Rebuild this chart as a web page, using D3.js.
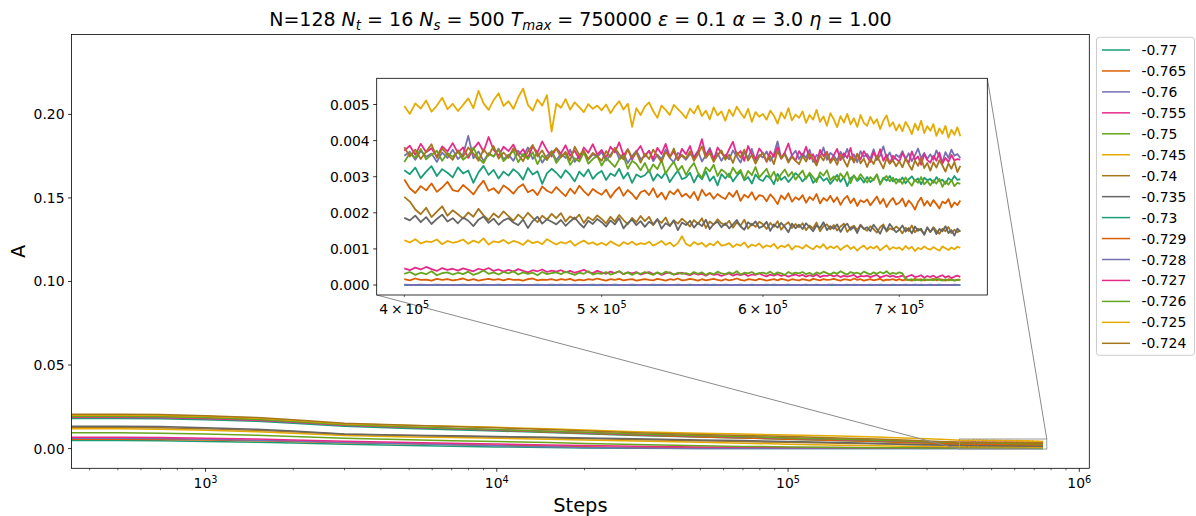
<!DOCTYPE html>
<html>
<head>
<meta charset="utf-8">
<script src="https://cdn.jsdelivr.net/npm/d3@7"></script>
<style>
  body { margin: 0; background: #ffffff; }
  svg text { font-family: "DejaVu Sans", sans-serif; fill: #000; }
</style>
</head>
<body>
<svg id="chart" width="1196" height="516"></svg>
<script>
// ---------------------------------------------------------------------------
// Data: order parameter A versus simulation step, one series per coupling.
// Values are stored in units of 1e-5.
// ---------------------------------------------------------------------------
const UNIT = 1e-5;

// log-spaced early samples, then a uniform grid up to T_max
const earlySteps = [300, 500, 700, 1000, 1500, 2000, 3000, 5000, 7000, 10000, 15000, 20000,
  30000, 50000, 70000, 100000, 150000, 200000, 250000, 300000, 350000, 375000];
const lateSteps = d3.range(400000, 750001, 2500);
const steps = earlySteps.concat(lateSteps);
const zoomStart = 400000;

const labels = ["-0.77", "-0.765", "-0.76", "-0.755", "-0.75", "-0.745", "-0.74", "-0.735",
  "-0.73", "-0.729", "-0.728", "-0.727", "-0.726", "-0.725", "-0.724"];

const A_0770 = [480,480,465,430,380,330,260,190,140,100,60,35,15,5,2,1,0,0,0,0,0,0,
  0,0,0,0,0,0,0,0,0,0, 0,0,0,0,0,0,0,0,0,0, 0,0,0,0,0,0,0,0,0,0, 0,0,0,0,0,0,0,0,0,0,
  0,0,0,0,0,0,0,0,0,0, 0,0,0,0,0,0,0,0,0,0, 0,0,0,0,0,0,0,0,0,0, 0,0,0,0,0,0,0,0,0,0,
  0,0,0,0,0,0,0,0,0,0, 0,0,0,0,0,0,0,0,0,0, 0,0,0,0,0,0,0,0,0,0, 0,0,0,0,0,0,0,0,0,0,
  0,0,0,0,0,0,0,0,0,0, 0,0,0,0,0,0,0,0,0,0, 0];

const A_0765 = [560,560,545,515,470,425,355,290,245,200,150,110,72,42,29,22,18,16,15,15,15,15,
  16,13,18,14,15,12,17,14,16,13, 15,18,13,16,12,15,17,14,16,13, 17,14,15,12,16,18,13,15,14,16,
  13,16,14,17,12,15,13,16,14,18, 15,12,16,14,17,13,15,16,12,14, 16,14,13,17,15,12,16,14,18,13,
  14,17,15,12,16,13,15,17,14,12, 16,13,15,18,14,12,16,15,13,17, 15,12,14,16,13,17,15,12,16,14,
  13,16,14,12,17,15,13,16,14,15, 17,14,12,16,15,13,18,14,16,12, 14,16,13,15,17,12,15,14,16,13,
  16,13,15,14,12,17,14,16,13,15, 14,17,13,16,15,12,16,14,13,15, 14];

const A_0760 = [620,620,600,560,505,450,370,285,230,170,112,72,32,11,4,2,1,0,0,0,0,0,
  1,0,0,1,0,0,1,0,0,0, 0,1,0,0,0,1,0,0,1,0, 0,0,1,0,0,0,1,0,0,1, 0,1,0,0,1,0,0,0,1,0,
  1,0,0,1,0,0,0,1,0,0, 0,0,1,0,1,0,0,0,1,0, 0,1,0,0,0,1,0,1,0,0, 1,0,0,0,1,0,0,1,0,0,
  0,1,0,1,0,0,0,1,0,0, 0,0,1,0,0,1,0,0,0,1, 1,0,0,0,1,0,1,0,0,0, 0,1,0,0,1,0,0,0,1,0,
  0,0,1,0,0,1,0,1,0,0, 1,0,0,1,0,0,0,0,1,0, 0];

const A_0755 = [680,680,662,625,570,515,440,365,320,272,218,180,140,102,84,72,62,55,51,48,47,46,
  46,41,48,43,50,44,39,47,42,45, 40,46,42,38,45,41,47,39,43,37, 42,37,44,39,35,41,38,43,36,40,
  37,41,35,39,34,38,42,36,33,39, 35,31,37,33,38,30,35,32,36,29, 33,36,30,34,28,32,35,29,31,34,
  30,27,33,29,31,26,32,28,30,25, 29,32,26,30,27,31,25,29,28,32, 27,24,29,26,30,25,28,23,27,29,
  25,28,23,27,24,29,22,26,25,28, 24,27,22,26,23,25,28,21,25,24, 26,22,25,28,21,24,27,23,26,22,
  23,26,21,25,28,22,24,27,20,25, 22,26,20,24,27,21,25,19,23,26, 22];

const A_0750 = [940,940,922,875,800,730,615,525,472,420,360,310,240,172,132,102,72,54,44,38,35,33,
  31,36,28,34,30,38,27,33,35,29, 34,30,37,28,33,40,31,35,29,36, 32,38,29,35,31,34,27,36,30,33,
  35,30,37,32,28,34,31,38,29,33, 31,36,29,33,38,30,35,28,34,31, 36,32,28,35,30,37,33,29,34,31,
  33,29,36,31,35,28,34,30,37,32, 30,35,31,38,29,34,32,36,30,33, 34,31,37,29,35,32,28,36,31,34,
  32,36,30,34,28,35,31,37,33,29, 35,31,38,33,29,36,32,34,30,37, 33,29,35,31,36,32,38,30,34,31,
  35,32,17,14,16,13,15,12,16,14, 15,13,17,14,12,16,13,15,12,14, 15];

const A_0745 = [1180,1180,1160,1100,1010,920,780,700,658,615,565,518,450,372,322,262,202,166,146,133,127,125,
  124,118,127,115,121,119,126,113,122,117, 120,126,114,123,117,129,112,121,118,125,
  115,122,118,111,124,116,120,113,127,119, 112,119,115,122,109,117,123,114,118,111,
  117,110,121,114,108,119,113,120,111,116, 113,120,109,115,122,111,118,107,116,135,
  114,108,119,112,117,106,115,110,121,109, 111,116,105,113,109,118,104,112,108,115,
  103,110,106,114,101,109,105,112,98,108, 106,101,111,104,99,109,103,113,100,107,
  102,108,97,105,110,100,106,95,104,109, 99,106,101,108,96,103,110,98,105,101,
  104,97,108,100,106,94,103,99,107,101, 98,105,100,95,107,102,97,104,99,106, 103];

const A_0740 = [1270,1270,1250,1190,1100,1010,862,782,742,700,652,610,548,470,420,372,322,292,272,258,250,247,
  244,231,209,196,214,188,203,218,192,207, 196,184,201,189,211,193,180,198,187,204,
  191,178,195,183,200,186,174,192,181,197, 185,199,176,190,182,195,172,188,179,193,
  183,171,189,176,194,180,168,186,174,191, 177,189,166,181,172,187,163,179,170,184,
  174,162,180,169,185,158,176,167,182,171, 166,178,159,173,164,181,156,170,161,175,
  168,155,172,161,177,153,166,174,158,169, 160,171,152,165,157,173,149,163,168,154,
  166,151,162,170,147,159,164,152,167,156, 150,163,155,145,160,168,148,157,153,162,
  155,143,159,149,165,146,156,151,141,158, 147,160,150,142,156,149,161,144,153,146, 151];

const A_0735 = [1340,1340,1318,1250,1150,1050,880,802,762,722,680,640,590,520,478,428,360,300,250,215,196,189,
  186,179,192,174,188,169,183,195,176,185, 171,187,178,163,181,190,172,184,167,179,
  185,173,166,181,158,177,189,170,182,175, 168,180,164,176,187,171,159,178,169,183,
  174,162,179,168,185,157,172,181,166,177, 161,175,168,183,156,171,164,179,152,173,
  166,178,159,172,163,181,155,169,175,160, 171,157,168,180,162,153,174,165,176,158,
  163,175,150,168,159,172,161,146,170,157, 167,155,171,160,149,165,158,174,152,163,
  156,168,147,162,170,153,161,144,166,155, 160,149,167,155,142,163,151,169,157,146,
  153,165,148,158,143,162,150,156,139,160, 147,158,141,155,149,163,144,152,137,156, 148];

const A_0730 = [1800,1800,1780,1720,1630,1520,1330,1200,1130,1050,960,890,790,690,630,560,480,420,372,342,326,321,
  318,307,325,296,314,329,302,321,311,298, 326,309,317,283,312,330,305,319,295,314,
  303,321,310,292,324,306,315,280,309,322, 311,297,318,305,287,314,301,320,294,308,
  316,291,309,302,322,295,311,283,306,299, 304,318,289,307,296,313,285,302,317,293,
  298,311,284,305,293,315,288,301,276,307, 295,309,287,302,314,290,299,281,306,293,
  288,303,296,279,308,291,300,285,297,310, 301,287,298,307,283,294,302,289,296,280,
  292,305,286,299,274,295,303,288,297,284, 299,285,293,306,281,297,289,302,287,294,
  286,298,282,293,301,288,295,279,297,290, 294,283,299,287,292,280,296,289,302,291, 293];

const A_0729 = [1960,1960,1940,1870,1760,1640,1430,1280,1200,1100,990,910,810,700,630,560,480,420,370,330,302,288,
  292,268,255,274,262,281,258,270,286,263, 259,277,265,251,272,289,261,268,254,276,
  266,253,270,279,257,264,249,273,261,255, 271,258,246,267,253,275,260,248,266,257,
  250,264,242,259,271,247,263,252,238,257, 262,249,268,243,256,237,260,251,265,245,
  253,241,258,235,264,247,255,239,252,244, 238,256,244,261,233,250,242,257,236,249,
  246,232,251,240,224,248,237,254,231,243, 236,249,228,244,235,252,226,241,233,247,
  230,243,222,238,247,227,240,219,235,229, 237,221,233,245,225,239,216,231,241,223,
  228,240,218,234,224,209,230,242,220,233, 219,235,224,212,231,226,238,215,229,221, 234];

const A_0728 = [1860,1860,1840,1780,1690,1580,1390,1260,1190,1110,1020,950,850,750,690,620,540,480,430,400,376,364,
  358,369,347,372,355,364,341,367,352,375, 349,362,413,351,370,343,365,356,378,348,
  361,344,372,356,381,349,366,339,358,371, 346,363,352,375,341,359,368,347,362,355,
  368,345,360,379,350,364,338,357,372,349, 356,372,343,361,349,375,352,340,366,358,
  347,363,355,371,342,359,380,351,365,344, 361,348,373,356,339,368,352,377,345,360,
  353,370,344,362,398,351,366,343,359,372, 349,364,352,375,341,360,355,381,347,366,
  358,345,369,353,377,348,362,340,371,355, 363,350,376,346,359,384,352,367,345,361,
  354,371,348,365,343,360,378,351,366,349, 362,347,373,355,341,368,352,375,358,363, 352];

const A_0727 = [1880,1880,1860,1800,1700,1590,1400,1270,1200,1120,1030,960,860,760,700,630,550,490,440,410,387,376,
  372,386,361,391,368,379,355,384,370,393, 366,381,352,377,395,369,410,374,358,383,
  371,389,360,376,352,384,367,398,373,356, 379,364,387,358,372,349,381,366,390,361,
  374,352,383,367,395,359,376,348,369,385, 357,372,349,380,363,391,355,370,346,377,
  362,385,351,369,404,358,374,345,381,366, 353,376,397,360,371,344,385,362,349,378,
  364,341,370,355,382,350,367,392,358,345, 371,356,383,349,362,338,374,357,369,343,
  359,377,346,365,352,380,339,362,348,371, 355,341,368,350,376,344,361,337,358,349,
  342,365,351,338,370,347,356,333,362,346, 339,358,344,367,336,352,341,360,345,349, 347];

const A_0726 = [1920,1920,1900,1840,1740,1620,1420,1290,1220,1140,1040,970,870,770,710,640,560,500,450,410,382,360,
  341,365,352,377,348,361,372,344,366,355, 370,347,359,381,351,338,364,356,375,343,
  357,372,340,363,349,368,335,359,346,371, 338,355,364,333,351,342,367,336,349,358,
  331,352,340,327,348,356,322,344,335,318, 338,313,334,321,346,309,327,341,316,330,
  305,324,338,311,297,326,315,333,302,320, 312,299,325,308,319,293,316,304,327,298,
  310,322,296,314,288,307,320,301,313,292, 305,317,294,311,299,285,312,303,318,290,
  301,288,309,296,313,282,304,291,307,295, 284,299,290,306,278,294,302,287,297,281,
  293,280,298,286,275,292,283,299,279,288, 276,290,281,294,272,287,278,291,274,283, 280];

const A_0725 = [2010,2010,1990,1930,1830,1700,1480,1380,1330,1270,1180,1110,1010,920,870,810,750,700,640,590,540,515,
  496,474,503,489,511,480,497,519,487,502, 482,499,517,490,538,503,485,512,531,496,
  509,488,520,544,499,483,514,497,526,425, 502,491,515,486,506,493,479,501,488,497,
  484,500,476,495,509,486,502,438,490,471, 494,506,482,463,497,485,471,499,487,476,
  462,489,475,497,468,483,459,492,470,481, 455,486,468,494,477,463,488,452,479,466,
  474,458,483,469,447,478,461,490,456,472, 463,481,449,471,458,485,452,467,441,476,
  459,437,468,450,474,445,462,438,471,449, 441,466,447,459,432,455,470,439,451,428,
  445,426,452,437,418,447,429,455,421,440, 427,446,413,434,419,441,408,430,416,437, 412];

const A_0724 = [2060,2060,2040,1970,1860,1730,1520,1390,1320,1240,1140,1060,950,850,790,720,640,580,510,460,410,385,
  382,356,375,349,369,390,352,378,361,347, 373,355,381,364,344,376,358,385,350,367,
  352,379,361,343,370,388,356,373,348,365, 378,354,369,345,383,360,372,349,366,357,
  344,371,355,380,362,348,376,353,367,339, 364,349,375,357,341,369,353,378,346,360,
  351,370,344,362,384,352,366,341,359,373, 347,361,338,368,353,375,345,360,336,356,
  366,343,358,335,371,350,362,339,355,344, 335,357,342,364,348,331,359,345,367,338,
  352,333,360,346,328,355,341,364,337,350, 327,349,335,358,340,323,351,336,345,329,
  343,326,350,334,319,345,330,352,324,338, 317,340,325,346,331,314,337,322,341,313, 330];

const seriesValues = [A_0770, A_0765, A_0760, A_0755, A_0750, A_0745, A_0740, A_0735,
  A_0730, A_0729, A_0728, A_0727, A_0726, A_0725, A_0724];

// Dark2 qualitative palette, cycled over the series
const palette = ["#1b9e77", "#d95f02", "#7570b3", "#e7298a", "#66a61e", "#e6ab02", "#a6761d", "#666666"];

const mainYTicks = [0, 0.05, 0.10, 0.15, 0.20];
const insetYTicks = [0, 0.001, 0.002, 0.003, 0.004, 0.005];
const insetXTicks = [400000, 500000, 600000, 700000];

// ---------------------------------------------------------------------------
// Layout
// ---------------------------------------------------------------------------
const svg = d3.select("#chart");
const FS = 13.9;          // tick / legend font size
const LABEL_FS = 19.4;    // axis label font size
const TITLE_FS = 19.0;

const main = { left: 71.5, right: 1089.3, top: 34.5, bottom: 468.3 };
const inset = { left: 376.7, right: 987.3, top: 78.3, bottom: 295 };

const x = d3.scaleLog().domain([Math.pow(10, 2.5397), Math.pow(10, 6.0343)]).range([main.left, main.right]);
const y = d3.scaleLinear().domain([-0.0118, 0.2478]).range([main.bottom, main.top]);
const xi = d3.scaleLog().domain([Math.pow(10, 5.58851), Math.pow(10, 5.88831)]).range([inset.left, inset.right]);
const yi = d3.scaleLinear().domain([-0.000277, 0.005726]).range([inset.bottom, inset.top]);

const series = seriesValues.map((vals, i) => ({
  label: labels[i],
  color: palette[i % palette.length],
  points: steps.map((s, k) => [s, vals[k]]).filter(d => d[1] != null)
}));

const defs = svg.append("defs");
defs.append("clipPath").attr("id", "clip-main").append("rect")
  .attr("x", main.left).attr("y", main.top)
  .attr("width", main.right - main.left).attr("height", main.bottom - main.top);
defs.append("clipPath").attr("id", "clip-inset").append("rect")
  .attr("x", inset.left).attr("y", inset.top)
  .attr("width", inset.right - inset.left).attr("height", inset.bottom - inset.top);

// helper: "10^k" style label with superscript
function supLabel(sel, base, exp, fs) {
  sel.append("tspan").text(base);
  sel.append("tspan").attr("font-size", fs * 0.7).attr("dy", -fs * 0.38).text(exp);
}

// ---------------------------------------------------------------------------
// Main axes
// ---------------------------------------------------------------------------
const gMain = svg.append("g");
const lineMain = d3.line().x(d => x(d[0])).y(d => y(d[1] * UNIT));
gMain.append("g").attr("clip-path", "url(#clip-main)")
  .selectAll("path").data(series).join("path")
  .attr("d", d => lineMain(d.points))
  .attr("fill", "none").attr("stroke", d => d.color)
  .attr("stroke-width", 1.5).attr("stroke-linejoin", "round");

// x ticks (log): majors at powers of ten, minors in between
const xTicks = x.ticks();
const isMajor = v => Math.abs(Math.log10(v) - Math.round(Math.log10(v))) < 1e-9;
const gx = gMain.append("g");
gx.selectAll("line.minor").data(xTicks.filter(v => !isMajor(v))).join("line")
  .attr("x1", d => x(d)).attr("x2", d => x(d))
  .attr("y1", main.bottom).attr("y2", main.bottom + 2)
  .attr("stroke", "#000").attr("stroke-width", 0.6);
const xMajors = xTicks.filter(isMajor);
gx.selectAll("line.major").data(xMajors).join("line")
  .attr("x1", d => x(d)).attr("x2", d => x(d))
  .attr("y1", main.bottom).attr("y2", main.bottom + 3.5)
  .attr("stroke", "#000").attr("stroke-width", 0.8);
xMajors.forEach(v => {
  const t = gx.append("text").attr("x", x(v)).attr("y", main.bottom + 20)
    .attr("text-anchor", "middle").attr("font-size", FS);
  supLabel(t, "10", String(Math.round(Math.log10(v))), FS);
});

// y ticks
const gy = gMain.append("g");
gy.selectAll("line").data(mainYTicks).join("line")
  .attr("x1", main.left - 3.5).attr("x2", main.left)
  .attr("y1", d => y(d)).attr("y2", d => y(d))
  .attr("stroke", "#000").attr("stroke-width", 0.8);
gy.selectAll("text").data(mainYTicks).join("text")
  .attr("x", main.left - 7).attr("y", d => y(d)).attr("dy", "0.36em")
  .attr("text-anchor", "end").attr("font-size", FS)
  .text(d => d3.format(".2f")(d));

// frame
gMain.append("rect")
  .attr("x", main.left).attr("y", main.top)
  .attr("width", main.right - main.left).attr("height", main.bottom - main.top)
  .attr("fill", "none").attr("stroke", "#000").attr("stroke-width", 0.8);

// axis labels
svg.append("text").attr("x", (main.left + main.right) / 2).attr("y", 511.5)
  .attr("text-anchor", "middle").attr("font-size", LABEL_FS).text("Steps");
svg.append("text").attr("transform", `translate(25,${(main.top + main.bottom) / 2}) rotate(-90)`)
  .attr("text-anchor", "middle").attr("font-size", LABEL_FS).text("A");

// title
const titleParts = [
  { t: "N=128 " },
  { t: "N", it: true }, { t: "t", it: true, sub: true }, { t: " = 16 " },
  { t: "N", it: true }, { t: "s", it: true, sub: true }, { t: " = 500 " },
  { t: "T", it: true }, { t: "max", it: true, sub: true }, { t: " = 750000 " },
  { t: "\u03B5", it: true }, { t: " = 0.1 " },
  { t: "\u03B1", it: true }, { t: " = 3.0 " },
  { t: "\u03B7", it: true }, { t: " = 1.00" }
];
const title = svg.append("text").attr("x", (main.left + main.right) / 2).attr("y", 26)
  .attr("text-anchor", "middle").attr("font-size", TITLE_FS).style("white-space", "pre");
let lowered = false;
const SUB_DROP = 4;
titleParts.forEach(p => {
  const ts = title.append("tspan").text(p.t);
  if (p.it) ts.attr("font-style", "italic");
  if (p.sub) {
    ts.attr("font-size", TITLE_FS * 0.7);
    if (!lowered) { ts.attr("dy", SUB_DROP); lowered = true; }
  } else if (lowered) {
    ts.attr("dy", -SUB_DROP); lowered = false;
  }
});

// ---------------------------------------------------------------------------
// Zoom indicator: rectangle in main axes + connectors to the inset
// ---------------------------------------------------------------------------
const [ix0, ix1] = xi.domain();
const [iy0, iy1] = yi.domain();
const rx0 = x(ix0), rx1 = x(ix1), ryTop = y(iy1), ryBot = y(iy0);
svg.append("rect")
  .attr("x", rx0).attr("y", ryTop).attr("width", rx1 - rx0).attr("height", ryBot - ryTop)
  .attr("fill", "none").attr("stroke", "#9a9a9a").attr("stroke-width", 1);
svg.append("line")
  .attr("x1", inset.left).attr("y1", inset.bottom).attr("x2", rx0).attr("y2", ryBot)
  .attr("stroke", "#8a8a8a").attr("stroke-width", 1);
svg.append("line")
  .attr("x1", inset.right).attr("y1", inset.top).attr("x2", rx1).attr("y2", ryTop)
  .attr("stroke", "#8a8a8a").attr("stroke-width", 1);

// ---------------------------------------------------------------------------
// Inset axes: late-time window
// ---------------------------------------------------------------------------
const gIn = svg.append("g");
gIn.append("rect")
  .attr("x", inset.left).attr("y", inset.top)
  .attr("width", inset.right - inset.left).attr("height", inset.bottom - inset.top)
  .attr("fill", "#fff");
const lineInset = d3.line().x(d => xi(d[0])).y(d => yi(d[1] * UNIT));
gIn.append("g").attr("clip-path", "url(#clip-inset)")
  .selectAll("path").data(series).join("path")
  .attr("d", d => lineInset(d.points.filter(p => p[0] >= zoomStart)))
  .attr("fill", "none").attr("stroke", d => d.color)
  .attr("stroke-width", 1.8).attr("stroke-linejoin", "round");

// inset x ticks (minor ticks inside one decade, labelled)
gIn.selectAll("line.xt").data(insetXTicks).join("line")
  .attr("x1", d => xi(d)).attr("x2", d => xi(d))
  .attr("y1", inset.bottom).attr("y2", inset.bottom + 2)
  .attr("stroke", "#000").attr("stroke-width", 0.6);
insetXTicks.forEach(v => {
  const e = Math.floor(Math.log10(v) + 1e-9);
  const m = Math.round(v / Math.pow(10, e));
  const t = gIn.append("text").attr("x", xi(v)).attr("y", inset.bottom + 18.5)
    .attr("text-anchor", "middle").attr("font-size", FS).style("white-space", "pre");
  supLabel(t, `${m}\u2009\u00D7\u200910`, String(e), FS);
});

// inset y ticks
gIn.selectAll("line.yt").data(insetYTicks).join("line")
  .attr("x1", inset.left - 3.5).attr("x2", inset.left)
  .attr("y1", d => yi(d)).attr("y2", d => yi(d))
  .attr("stroke", "#000").attr("stroke-width", 0.8);
gIn.selectAll("text.yl").data(insetYTicks).join("text")
  .attr("x", inset.left - 7).attr("y", d => yi(d)).attr("dy", "0.36em")
  .attr("text-anchor", "end").attr("font-size", FS)
  .text(d => d3.format(".3f")(d));

gIn.append("rect")
  .attr("x", inset.left).attr("y", inset.top)
  .attr("width", inset.right - inset.left).attr("height", inset.bottom - inset.top)
  .attr("fill", "none").attr("stroke", "#000").attr("stroke-width", 0.8);

// ---------------------------------------------------------------------------
// Legend
// ---------------------------------------------------------------------------
const leg = { x: 1096.5, y: 37.3, w: 98, h: 318, row: 20.95, first: 50 };
const gLeg = svg.append("g");
gLeg.append("rect")
  .attr("x", leg.x).attr("y", leg.y).attr("width", leg.w).attr("height", leg.h)
  .attr("rx", 2.8).attr("fill", "#fff").attr("fill-opacity", 0.8)
  .attr("stroke", "#cccccc").attr("stroke-width", 1);
const rows = gLeg.selectAll("g.row").data(series).join("g")
  .attr("transform", (d, i) => `translate(0,${leg.first + i * leg.row})`);
rows.append("line")
  .attr("x1", 1102).attr("x2", 1130).attr("y1", 0).attr("y2", 0)
  .attr("stroke", d => d.color).attr("stroke-width", 1.5);
rows.append("text")
  .attr("x", 1141.5).attr("y", 0).attr("dy", "0.36em")
  .attr("font-size", FS).text(d => d.label);
</script>
</body>
</html>
